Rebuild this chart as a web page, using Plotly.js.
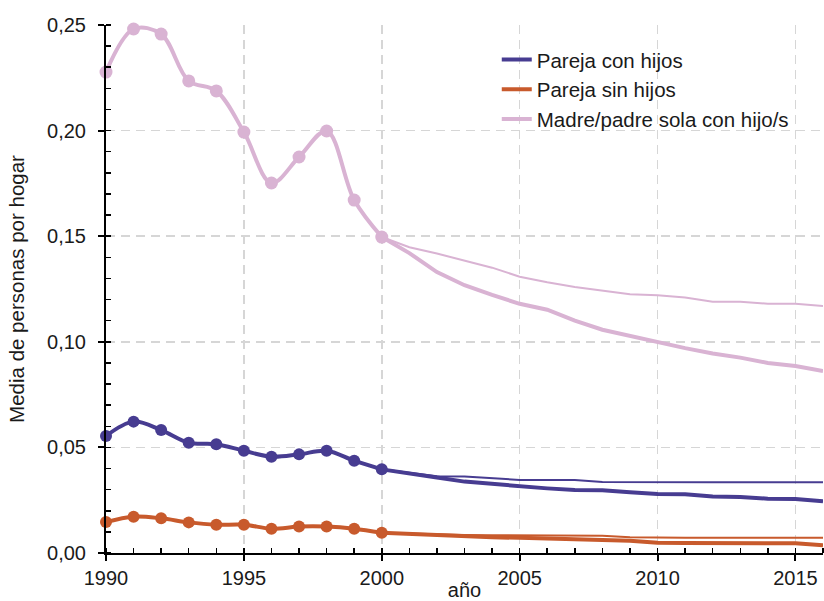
<!DOCTYPE html>
<html>
<head>
<meta charset="utf-8">
<script src="https://cdn.plot.ly/plotly-3.0.1.min.js"></script>
<style>html,body{margin:0;padding:0;background:#fff;}#chart{width:824px;height:601px;}</style>
</head>
<body>
<div id="chart"></div>
<script>
// Observed years (with markers)
const yearsObs = [1990,1991,1992,1993,1994,1995,1996,1997,1998,1999,2000];
// Projection years
const yearsProj = [2000,2001,2002,2003,2004,2005,2006,2007,2008,2009,2010,2011,2012,2013,2014,2015,2016];

const seriesNames = ["Pareja con hijos", "Pareja sin hijos", "Madre/padre sola con hijo/s"];
const seriesColors = ["#473c91", "#c85a2c", "#d9b3d3"];

// Pareja con hijos
const conHijosObs = [0.0554,0.0622,0.0582,0.0522,0.0515,0.0484,0.0456,0.0467,0.0484,0.0437,0.0396];
const conHijosProjLow = [0.0396,0.0375,0.0357,0.0338,0.0326,0.0317,0.0306,0.0298,0.0297,0.0288,0.0279,0.0278,0.0267,0.0265,0.0257,0.0256,0.0245];
const conHijosProjHigh = [0.0396,0.0378,0.0363,0.0362,0.0353,0.0346,0.0346,0.0346,0.0336,0.0335,0.0335,0.0335,0.0335,0.0335,0.0335,0.0335,0.0335];

// Pareja sin hijos
const sinHijosObs = [0.0147,0.0172,0.0164,0.0145,0.0134,0.0134,0.0115,0.0125,0.0125,0.0115,0.0096];
const sinHijosProjLow = [0.0096,0.0090,0.0082,0.0078,0.0074,0.0072,0.0070,0.0064,0.0062,0.0058,0.0048,0.0047,0.0047,0.0047,0.0047,0.0046,0.0037];
const sinHijosProjHigh = [0.0096,0.0092,0.0088,0.0085,0.0084,0.0083,0.0083,0.0082,0.0082,0.0074,0.0072,0.0072,0.0072,0.0072,0.0072,0.0072,0.0072];

// Madre/padre sola con hijo/s
const monoObs = [0.2277,0.2481,0.2457,0.2235,0.2188,0.1993,0.1752,0.1875,0.1998,0.1671,0.1496];
const monoProjLow = [0.1496,0.1420,0.1330,0.1268,0.1222,0.1180,0.1152,0.1100,0.1057,0.1027,0.1000,0.0970,0.0945,0.0925,0.0900,0.0885,0.0862];
const monoProjHigh = [0.1496,0.1448,0.1418,0.1383,0.1351,0.1308,0.1282,0.1260,0.1242,0.1225,0.1220,0.1210,0.1190,0.1190,0.1180,0.1180,0.1170];

const yTickVals = [0, 0.05, 0.10, 0.15, 0.20, 0.25];
const xTickVals = [1990, 1995, 2000, 2005, 2010, 2015];

const FONT = "Liberation Sans, Arial, sans-serif";
const TXT = "#1a1a1a";

const obs = [conHijosObs, sinHijosObs, monoObs];
const low = [conHijosProjLow, sinHijosProjLow, monoProjLow];
const high = [conHijosProjHigh, sinHijosProjHigh, monoProjHigh];
const markerSizes = [12, 12, 13];

const traces = [];
// draw pink first (back), then orange, then blue
[2,1,0].forEach(i => {
  traces.push({
    x: yearsProj, y: high[i], mode: "lines", type: "scatter",
    line: {color: seriesColors[i], width: 2}, showlegend: false, hoverinfo: "skip", cliponaxis: false
  });
  traces.push({
    x: yearsProj, y: low[i], mode: "lines", type: "scatter", name: seriesNames[i],
    line: {color: seriesColors[i], width: 4}, showlegend: true, legendrank: i + 1, cliponaxis: false
  });
  traces.push({
    x: yearsObs, y: obs[i], mode: "lines+markers", type: "scatter",
    line: {color: seriesColors[i], width: 4, shape: "spline", smoothing: 1},
    marker: {color: seriesColors[i], size: markerSizes[i]},
    showlegend: false, cliponaxis: false
  });
});

const layout = {
  width: 824, height: 601,
  margin: {l: 106, r: 1, t: 25, b: 48},
  paper_bgcolor: "#fff", plot_bgcolor: "#fff",
  separators: ",.",
  font: {family: FONT, size: 20, color: TXT},
  showlegend: true,
  legend: {
    x: 0.545, y: 0.972, xanchor: "left", yanchor: "top",
    bgcolor: "rgba(0,0,0,0)", borderwidth: 0,
    font: {family: FONT, size: 20.5, color: TXT},
    traceorder: "normal", tracegroupgap: 0
  },
  xaxis: {
    range: [1990, 2016], tickvals: xTickVals, ticktext: xTickVals.map(String),
    showline: true, linecolor: "#000", linewidth: 2,
    ticks: "outside", ticklen: 6, tickwidth: 2, tickcolor: "#000",
    showgrid: true, gridcolor: "#d6d6d6", gridwidth: 1.5, griddash: "9px,6px",
    zeroline: false,
    minor: {dtick: 1, tick0: 1990, ticks: "inside", ticklen: 5, tickwidth: 1.5, tickcolor: "#000", showgrid: false},
    tickfont: {family: FONT, size: 20, color: TXT},
    title: {text: "año", font: {family: FONT, size: 20, color: TXT}, standoff: 0},
    automargin: false, fixedrange: true
  },
  xaxis2: {
    overlaying: "x", anchor: "y", side: "bottom",
    range: [1990, 2016], tickvals: xTickVals, showticklabels: false,
    ticks: "inside", ticklen: 6, tickwidth: 2, tickcolor: "#000",
    showgrid: false, showline: false, zeroline: false
  },
  yaxis: {
    range: [0, 0.25], tickvals: yTickVals, tickformat: ".2f",
    showline: true, linecolor: "#000", linewidth: 2,
    ticks: "outside", ticklen: 6, tickwidth: 2, tickcolor: "#000",
    ticklabelstandoff: 8,
    showgrid: true, gridcolor: "#d6d6d6", gridwidth: 1.5, griddash: "9px,6px",
    zeroline: false,
    minor: {dtick: 0.01, tick0: 0, ticks: "inside", ticklen: 5, tickwidth: 1.5, tickcolor: "#000", showgrid: false},
    tickfont: {family: FONT, size: 20, color: TXT},
    title: {text: "Media de personas por hogar", font: {family: FONT, size: 20.5, color: TXT}, standoff: 17},
    automargin: false, fixedrange: true
  },
  yaxis2: {
    overlaying: "y", anchor: "x", side: "left",
    range: [0, 0.25], tickvals: yTickVals, showticklabels: false,
    ticks: "inside", ticklen: 6, tickwidth: 2, tickcolor: "#000",
    showgrid: false, showline: false, zeroline: false
  }
};

Plotly.newPlot("chart", traces, layout, {displayModeBar: false, staticPlot: true});
</script>
</body>
</html>
